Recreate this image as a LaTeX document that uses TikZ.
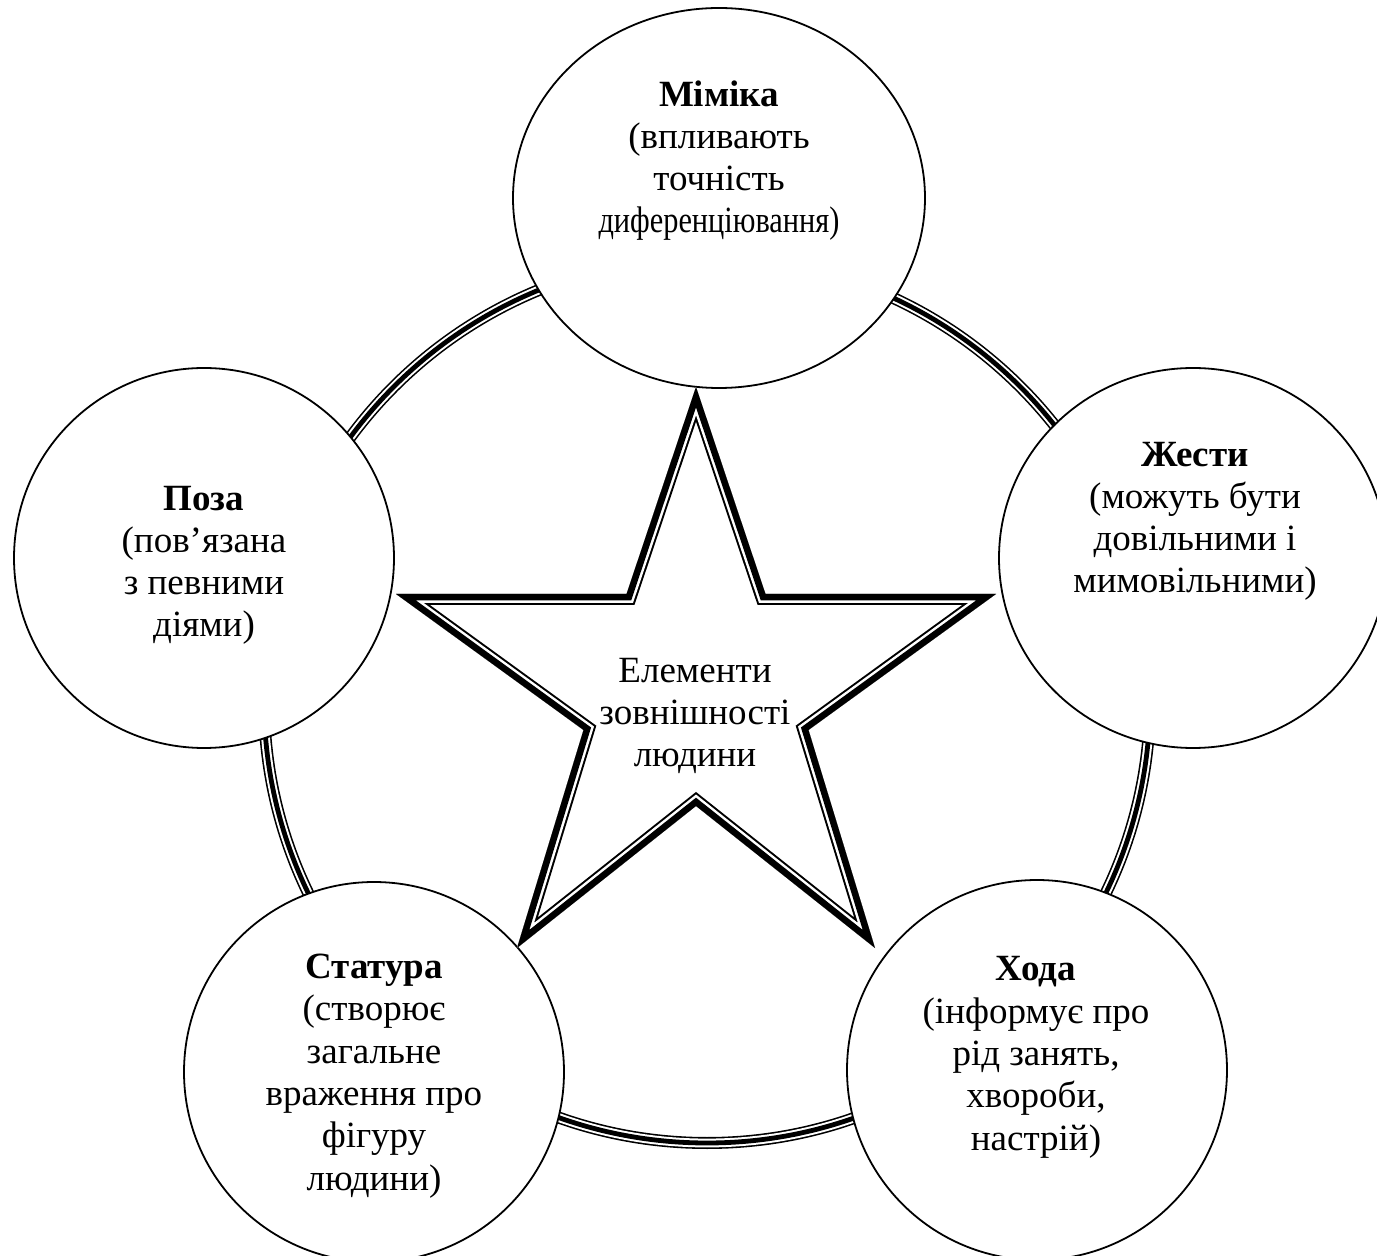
\documentclass[tikz,border=0pt]{standalone}
\usepackage{fontspec}
\setmainfont{Liberation Serif}
\usepackage{graphicx}
\usetikzlibrary{shapes.geometric}
\begin{document}
\begin{tikzpicture}[x=0.5pt,y=-0.5pt,
  bubble/.style={ellipse,draw=black,line width=0.9pt,fill=white,inner sep=0pt},
  txt/.style={align=center,anchor=base,inner sep=0pt,font=\fontsize{18.5pt}{21.15pt}\selectfont},
  ringouter/.style={line width=6pt,black},
  ringgap/.style={line width=4.4pt,white},
  ringcore/.style={line width=2.4pt,black},
  starouter/.style={line width=11pt,black,line join=miter},
  stargap/.style={line width=9pt,white,line join=miter},
  starcore/.style={line width=6.5pt,black,line join=miter}
]
\useasboundingbox[fill=white] (0,0) rectangle (1377,1256);
% ring
\coordinate (rc) at (707,700);
\draw[ringouter] (rc) circle [radius=443];
\draw[ringgap] (rc) circle [radius=443];
\draw[ringcore] (rc) circle [radius=443];
% circles
\node[bubble,minimum width=206pt,minimum height=190pt] (mim) at (719,198) {};
\node[bubble,minimum width=190pt,minimum height=190pt] (poz) at (204,558) {};
\node[bubble,minimum width=194pt,minimum height=190pt] (zhe) at (1193,558) {};
\node[bubble,minimum width=190pt,minimum height=190pt] (sta) at (374,1072) {};
\node[bubble,minimum width=190pt,minimum height=190pt] (hod) at (1037,1070) {};
% star
\coordinate (s1) at (696,387);
\coordinate (s2) at (765.5,594);
\coordinate (s3) at (996,594);
\coordinate (s4) at (808.5,730);
\coordinate (s5) at (875,948);
\coordinate (s6) at (696,806);
\coordinate (s7) at (517,948);
\coordinate (s8) at (583.5,730);
\coordinate (s9) at (396,594);
\coordinate (s10) at (626.5,594);
\begin{scope}
\clip (s1) -- (s2) -- (s3) -- (s4) -- (s5) -- (s6) -- (s7) -- (s8) -- (s9) -- (s10) -- cycle;
\fill[white] (s1) -- (s2) -- (s3) -- (s4) -- (s5) -- (s6) -- (s7) -- (s8) -- (s9) -- (s10) -- cycle;
\draw[starouter] (s1) -- (s2) -- (s3) -- (s4) -- (s5) -- (s6) -- (s7) -- (s8) -- (s9) -- (s10) -- cycle;
\draw[stargap] (s1) -- (s2) -- (s3) -- (s4) -- (s5) -- (s6) -- (s7) -- (s8) -- (s9) -- (s10) -- cycle;
\draw[starcore] (s1) -- (s2) -- (s3) -- (s4) -- (s5) -- (s6) -- (s7) -- (s8) -- (s9) -- (s10) -- cycle;
\end{scope}
% texts (base anchor = baseline of the last line)
\node[txt] (mimT) at (719,233) {\textbf{Міміка}\\(впливають\\точність\\\scalebox{0.82}[1]{диференціювання)}};
\node[txt] (pozT) at (204,637) {\textbf{Поза}\\(пов’язана\\з певними\\діями)};
\node[txt] (zheT) at (1195,593) {\textbf{Жести}\\(можуть бути\\довільними і\\мимовільними)};
\node[txt] (staT) at (374,1190) {\textbf{Статура}\\(створює\\загальне\\враження про\\фігуру\\людини)};
\node[txt] (hodT) at (1036,1150) {\textbf{Хода}\\(інформує про\\рід занять,\\хвороби,\\настрій)};
\node[txt] (cenT) at (695,767) {Елементи\\зовнішності\\людини};
\end{tikzpicture}
\end{document}
